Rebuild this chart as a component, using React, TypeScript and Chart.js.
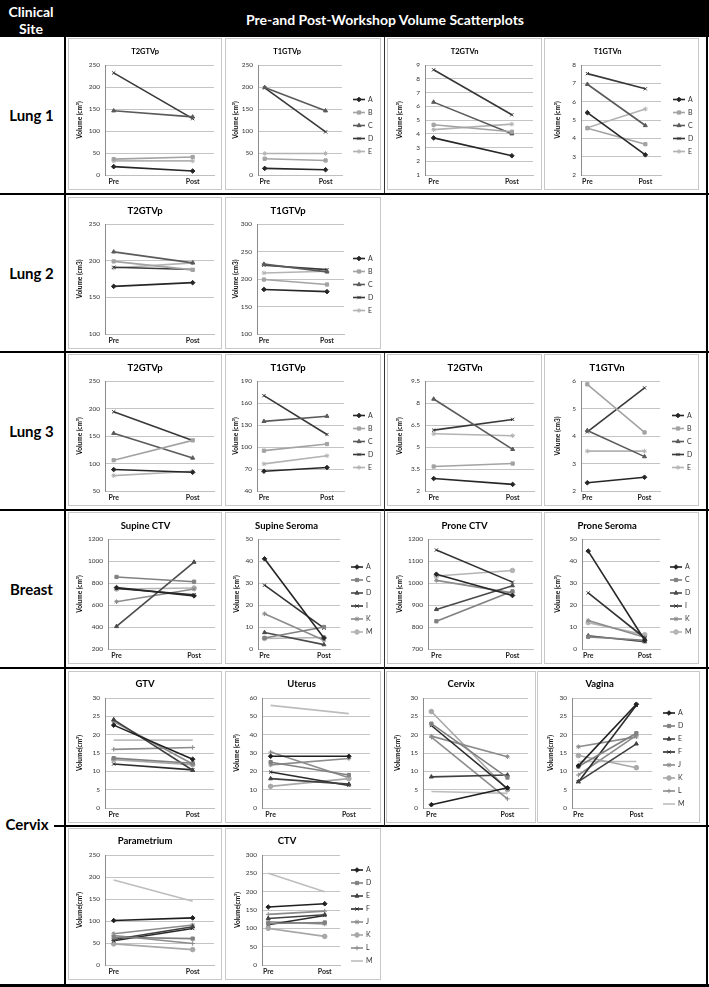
import React, { useEffect, useRef } from "react";
import { Chart, registerables } from "chart.js";
import { drawPoint } from "chart.js/helpers";

Chart.register(...registerables);

const FONT = "Lato, 'Open Sans', sans-serif";

// ---------------- DATA ----------------
const STAGES = ["Pre", "Post"];
const LUNG_PATIENTS = ["A", "B", "C", "D", "E"];
const BREAST_PATIENTS = ["A", "C", "D", "I", "K", "M"];
const CERVIX_PATIENTS = ["A", "D", "E", "F", "J", "K", "L", "M"];

// Lung 1
const lung1T2GTVpPre = [19, 36, 146, 232, 32];
const lung1T2GTVpPost = [9, 41, 132, 128, 32];
const lung1T2GTVpTicks = [0, 50, 100, 150, 200, 250];
const lung1T1GTVpPre = [15, 37, 199, 198, 49];
const lung1T1GTVpPost = [12, 33, 146, 98, 49];
const lung1T1GTVpTicks = [0, 50, 100, 150, 200, 250];
const lung1T2GTVnPre = [3.7, 4.65, 6.3, 8.65, 4.3];
const lung1T2GTVnPost = [2.4, 4.15, 4.0, 5.38, 4.7];
const lung1T2GTVnTicks = [1, 2, 3, 4, 5, 6, 7, 8, 9];
const lung1T1GTVnPre = [5.4, 4.55, 6.95, 7.53, 4.58];
const lung1T1GTVnPost = [3.1, 3.68, 4.7, 6.7, 5.6];
const lung1T1GTVnTicks = [2, 3, 4, 5, 6, 7, 8];

// Lung 2
const lung2T2GTVpPre = [165, 199, 212, 191, 190];
const lung2T2GTVpPost = [170, 187.5, 197, 188, 197];
const lung2T2GTVpTicks = [100, 150, 200, 250];
const lung2T1GTVpPre = [181, 199, 227, 225, 211];
const lung2T1GTVpPost = [177, 190, 213, 217, 214];
const lung2T1GTVpTicks = [100, 150, 200, 250, 300];

// Lung 3
const lung3T2GTVpPre = [89, 106, 155, 194, 78];
const lung3T2GTVpPost = [84, 142, 110, 142, 86];
const lung3T2GTVpTicks = [50, 100, 150, 200, 250];
const lung3T1GTVpPre = [67, 95, 135, 170, 77];
const lung3T1GTVpPost = [72, 104, 142, 117, 88];
const lung3T1GTVpTicks = [40, 70, 100, 130, 160, 190];
const lung3T2GTVnPre = [2.85, 3.67, 8.27, 6.15, 5.9];
const lung3T2GTVnPost = [2.45, 3.87, 4.84, 6.88, 5.77];
const lung3T2GTVnTicks = [2, 3.5, 5, 6.5, 8, 9.5];
const lung3T1GTVnPre = [2.3, 5.88, 4.2, 4.15, 3.45];
const lung3T1GTVnPost = [2.5, 4.13, 3.25, 5.75, 3.45];
const lung3T1GTVnTicks = [2, 3, 4, 5, 6];

// Breast
const supineCTVPre = [758, 855, 405, 750, 630, 745];
const supineCTVPost = [683, 812, 990, 693, 745, 755];
const supineCTVTicks = [200, 400, 600, 800, 1000, 1200];
const supineSeromaPre = [41, 5, 7.5, 29, 16, 4.8];
const supineSeromaPost = [5, 10, 2, 9.5, 4, 5.2];
const supineSeromaTicks = [0, 10, 20, 30, 40, 50];
const proneCTVPre = [1040, 826, 880, 1150, 1012, 1032];
const proneCTVPost = [943, 962, 988, 1004, 955, 1057];
const proneCTVTicks = [700, 800, 900, 1000, 1100, 1200];
const proneSeromaPre = [44.5, 5.5, 6, 25.5, 13, 12];
const proneSeromaPost = [4, 4, 3.3, 5, 5.3, 6.5];
const proneSeromaTicks = [0, 10, 20, 30, 40, 50];

// Cervix
const gtvPre = [22.6, 13.6, 24.1, 12, 23.6, 13.2, 16, 18.5];
const gtvPost = [13.3, 12.2, 10.3, 10.4, 12, 11.8, 16.5, 18.5];
const gtvTicks = [0, 5, 10, 15, 20, 25, 30];
const uterusPre = [28.2, 25, 16, 19.6, 23.5, 11.8, 30.5, 56];
const uterusPost = [28.2, 18, 13, 12.3, 27, 16, 16.5, 51.5];
const uterusTicks = [0, 10, 20, 30, 40, 50, 60];
const cervixPre = [0.9, 23, 8.5, 22.5, 19.6, 26.3, 19.3, 4.5];
const cervixPost = [5.5, 8.3, 9, 5.3, 14, 5, 2.5, 4];
const cervixTicks = [0, 5, 10, 15, 20, 25, 30];
const vaginaPre = [11.5, 11.3, 7.2, 7.1, 16.7, 14.3, 9, 12.7];
const vaginaPost = [28.3, 20.4, 17.5, 28, 19.4, 11, 19.8, 12.7];
const vaginaTicks = [0, 5, 10, 15, 20, 25, 30];
const parametriumPre = [101, 63, 58, 55, 71, 48, 67, 193];
const parametriumPost = [107, 60, 87, 83, 91, 35, 49, 145];
const parametriumTicks = [0, 50, 100, 150, 200, 250];
const ctvPre = [158, 113, 127, 110, 118, 100, 138, 250];
const ctvPost = [167, 116, 137, 135, 112, 78, 147, 200];
const ctvTicks = [0, 50, 100, 150, 200, 250, 300];

// ---------------- STYLES ----------------
type SeriesStyle = { color: string; marker: string | false };
const LUNG_STYLES: SeriesStyle[] = [
  { color: "#262626", marker: "rectRot" },
  { color: "#a3a3a3", marker: "rect" },
  { color: "#5a5a5a", marker: "triangle" },
  { color: "#383838", marker: "crossRot" },
  { color: "#b3b3b3", marker: "star" },
];
const BREAST_STYLES: SeriesStyle[] = [
  { color: "#262626", marker: "rectRot" },
  { color: "#808080", marker: "rect" },
  { color: "#4a4a4a", marker: "triangle" },
  { color: "#333333", marker: "crossRot" },
  { color: "#8c8c8c", marker: "star" },
  { color: "#b3b3b3", marker: "circle" },
];
const CERVIX_STYLES: SeriesStyle[] = [
  { color: "#1f1f1f", marker: "rectRot" },
  { color: "#808080", marker: "rect" },
  { color: "#404040", marker: "triangle" },
  { color: "#2b2b2b", marker: "crossRot" },
  { color: "#8c8c8c", marker: "star" },
  { color: "#a8a8a8", marker: "circle" },
  { color: "#8c8c8c", marker: "cross" },
  { color: "#bdbdbd", marker: false },
];

const VOL = "Volume (cm³)";
const VOL3 = "Volume (cm3)";
const VOLN = "Volume(cm³)";

const MARKER_R = 2.3;

// ---------------- LAYOUT ----------------
const ROW_TOPS = [38, 197, 354, 512, 671, 828];
const PANEL_H = 152;
const COLS = [
  { x: 68, w: 154 },
  { x: 225, w: 156 },
  { x: 387, w: 155 },
  { x: 544, w: 155 },
];
const CERVIX_COLS = [
  { x: 68, w: 154 },
  { x: 225, w: 156 },
  { x: 386, w: 150 },
  { x: 537, w: 163 },
];

type Geo = { left: number; right: number; yTitleX: number; legendX?: number };
const G_STD: Geo = { left: 37, right: 146, yTitleX: 12 };
const G_P2L: Geo = { left: 33, right: 117, yTitleX: 11, legendX: 128 };
const G_P4L: Geo = { left: 37, right: 117, yTitleX: 14, legendX: 129 };

interface PanelDef {
  key: string;
  title: string;
  yTitle: string;
  ids: string[];
  styles: SeriesStyle[];
  pre: number[];
  post: number[];
  ticks: number[];
  box: { x: number; y: number; w: number; h: number };
  geo: Geo;
  titleSize: number;
  titleY: number;
}

function mk(
  row: number,
  col: number,
  title: string,
  yTitle: string,
  ids: string[],
  styles: SeriesStyle[],
  pre: number[],
  post: number[],
  ticks: number[],
  geo: Geo,
  titleSize = 9.5,
  titleY = 14
): PanelDef {
  const cols = row === 4 ? CERVIX_COLS : COLS;
  return {
    key: `${row}-${col}`,
    title,
    yTitle,
    ids,
    styles,
    pre,
    post,
    ticks,
    box: { x: cols[col].x, y: ROW_TOPS[row], w: cols[col].w, h: PANEL_H },
    geo,
    titleSize,
    titleY,
  };
}

const L = LUNG_PATIENTS;
const LS = LUNG_STYLES;
const PANELS: PanelDef[] = [
  mk(0, 0, "T2GTVp", VOL, L, LS, lung1T2GTVpPre, lung1T2GTVpPost, lung1T2GTVpTicks, G_STD, 7.5),
  mk(0, 1, "T1GTVp", VOL, L, LS, lung1T1GTVpPre, lung1T1GTVpPost, lung1T1GTVpTicks, G_P2L, 7.5),
  mk(0, 2, "T2GTVn", VOL, L, LS, lung1T2GTVnPre, lung1T2GTVnPost, lung1T2GTVnTicks, { left: 38, right: 146, yTitleX: 13 }, 7.5),
  mk(0, 3, "T1GTVn", VOL, L, LS, lung1T1GTVnPre, lung1T1GTVnPost, lung1T1GTVnTicks, G_P4L, 7.5),
  mk(1, 0, "T2GTVp", VOL3, L, LS, lung2T2GTVpPre, lung2T2GTVpPost, lung2T2GTVpTicks, G_STD),
  mk(1, 1, "T1GTVp", VOL3, L, LS, lung2T1GTVpPre, lung2T1GTVpPost, lung2T1GTVpTicks, { left: 32, right: 119, yTitleX: 11, legendX: 128 }),
  mk(2, 0, "T2GTVp", VOL, L, LS, lung3T2GTVpPre, lung3T2GTVpPost, lung3T2GTVpTicks, G_STD),
  mk(2, 1, "T1GTVp", VOL, L, LS, lung3T1GTVpPre, lung3T1GTVpPost, lung3T1GTVpTicks, { left: 32, right: 119, yTitleX: 11, legendX: 128 }),
  mk(2, 2, "T2GTVn", VOL, L, LS, lung3T2GTVnPre, lung3T2GTVnPost, lung3T2GTVnTicks, { left: 38, right: 147, yTitleX: 13 }),
  mk(2, 3, "T1GTVn", VOL3, L, LS, lung3T1GTVnPre, lung3T1GTVnPost, lung3T1GTVnTicks, { left: 37, right: 116, yTitleX: 14, legendX: 128 }),
  mk(3, 0, "Supine CTV", VOL, BREAST_PATIENTS, BREAST_STYLES, supineCTVPre, supineCTVPost, supineCTVTicks, { left: 40, right: 147, yTitleX: 12 }),
  mk(3, 1, "Supine Seroma", VOL, BREAST_PATIENTS, BREAST_STYLES, supineSeromaPre, supineSeromaPost, supineSeromaTicks, { left: 33, right: 115, yTitleX: 12, legendX: 126 }),
  mk(3, 2, "Prone CTV", VOL, BREAST_PATIENTS, BREAST_STYLES, proneCTVPre, proneCTVPost, proneCTVTicks, { left: 41, right: 146, yTitleX: 13 }),
  mk(3, 3, "Prone Seroma", VOL, BREAST_PATIENTS, BREAST_STYLES, proneSeromaPre, proneSeromaPost, proneSeromaTicks, { left: 38, right: 116, yTitleX: 14, legendX: 126 }),
  mk(4, 0, "GTV", VOLN, CERVIX_PATIENTS, CERVIX_STYLES, gtvPre, gtvPost, gtvTicks, G_STD, 9.5, 12.5),
  mk(4, 1, "Uterus", VOL, CERVIX_PATIENTS, CERVIX_STYLES, uterusPre, uterusPost, uterusTicks, { left: 37, right: 145, yTitleX: 12 }, 9.5, 12.5),
  mk(4, 2, "Cervix", VOLN, CERVIX_PATIENTS, CERVIX_STYLES, cervixPre, cervixPost, cervixTicks, { left: 37, right: 142, yTitleX: 12 }, 9.5, 12.5),
  mk(4, 3, "Vagina", VOLN, CERVIX_PATIENTS, CERVIX_STYLES, vaginaPre, vaginaPost, vaginaTicks, { left: 35, right: 115, yTitleX: 14, legendX: 126 }, 9.5, 12.5),
  mk(5, 0, "Parametrium", VOLN, CERVIX_PATIENTS, CERVIX_STYLES, parametriumPre, parametriumPost, parametriumTicks, G_STD, 9.5, 12.5),
  mk(5, 1, "CTV", VOLN, CERVIX_PATIENTS, CERVIX_STYLES, ctvPre, ctvPost, ctvTicks, { left: 37, right: 115, yTitleX: 13, legendX: 126 }, 9.5, 12.5),
];

// ---------------- CHART ----------------
function Panel({ p }: { p: PanelDef }) {
  const ref = useRef<HTMLCanvasElement>(null);
  useEffect(() => {
    const canvas = ref.current;
    if (!canvas) return;
    const innerW = p.box.w - 2;
    const innerH = p.box.h - 2;
    const plotTop = 26;
    const plotBottom = 136;
    const lh = p.titleSize * 1.2;
    const tPadTop = p.titleY - 1 - lh / 2;
    const tPadBottom = plotTop - tPadTop - lh;
    const yTitleSize = 6.5;
    const yTitleLH = yTitleSize * 1.2;
    const padLeft = p.geo.yTitleX - 1 - yTitleLH / 2;
    const plotLeft = p.geo.left - 1;
    const plotRight = p.geo.right - 1;

    const legendPlugin = {
      id: "sideLegend",
      afterDraw(chart: any) {
        if (p.geo.legendX === undefined) return;
        const ctx = chart.ctx as CanvasRenderingContext2D;
        const ds = chart.data.datasets as any[];
        const n = ds.length;
        const cy = 86.5;
        const pitch = 13;
        const x0 = p.geo.legendX - 1;
        ds.forEach((d, i) => {
          const y = cy + (i - (n - 1) / 2) * pitch;
          ctx.save();
          ctx.strokeStyle = d.borderColor;
          ctx.lineWidth = 1.6;
          ctx.beginPath();
          ctx.moveTo(x0, y);
          ctx.lineTo(x0 + 12, y);
          ctx.stroke();
          if (d.pointRadius > 0) {
            ctx.fillStyle = d.pointBackgroundColor;
            ctx.strokeStyle = d.pointBorderColor;
            ctx.lineWidth = 1;
            drawPoint(ctx, { pointStyle: d.pointStyle, rotation: 0, radius: MARKER_R, borderWidth: 1 } as any, x0 + 6, y);
          }
          ctx.fillStyle = "#333";
          ctx.font = `7px ${FONT}`;
          ctx.textBaseline = "middle";
          ctx.textAlign = "left";
          ctx.fillText(d.label, x0 + 15, y);
          ctx.restore();
        });
      },
    };

    const chart = new Chart(canvas, {
      type: "line",
      data: {
        datasets: p.ids.map((id, i) => {
          const s = p.styles[i];
          return {
            label: id,
            data: [
              { x: 1, y: p.pre[i] },
              { x: 2, y: p.post[i] },
            ],
            borderColor: s.color,
            backgroundColor: s.color,
            pointBackgroundColor: s.color,
            pointBorderColor: s.color,
            pointStyle: (s.marker || "circle") as any,
            pointRadius: s.marker ? MARKER_R : 0,
            pointBorderWidth: 1,
            borderWidth: 1.6,
            fill: false,
            tension: 0,
          };
        }),
      },
      options: {
        animation: false,
        responsive: false,
        events: [],
        layout: { padding: { left: padLeft, right: innerW - plotRight, top: 0, bottom: 0 } },
        plugins: {
          legend: { display: false },
          tooltip: { enabled: false },
          title: {
            display: true,
            text: p.title,
            color: "#000",
            font: { family: FONT, size: p.titleSize, weight: "bold" },
            padding: { top: tPadTop, bottom: tPadBottom },
          },
        },
        scales: {
          x: {
            type: "linear",
            min: 0.89,
            max: 2.27,
            afterBuildTicks: (s: any) => {
              s.ticks = [{ value: 1 }, { value: 2 }];
            },
            afterFit: (s: any) => {
              s.height = innerH - plotBottom;
            },
            ticks: {
              callback: (v: any) => STAGES[Math.round(Number(v)) - 1],
              color: "#222",
              font: { family: FONT, size: 7, weight: "bold" },
              padding: 3,
              maxRotation: 0,
              autoSkip: false,
            },
            grid: { display: false, drawTicks: false, tickLength: 0 },
            border: { display: true, color: "#bfbfbf", width: 1 },
          },
          y: {
            type: "linear",
            min: p.ticks[0],
            max: p.ticks[p.ticks.length - 1],
            afterBuildTicks: (s: any) => {
              s.ticks = p.ticks.map((v) => ({ value: v }));
            },
            afterFit: (s: any) => {
              s.width = plotLeft - padLeft;
            },
            ticks: {
              callback: (v: any) => String(v),
              color: "#333",
              font: { family: FONT, size: 6.5 },
              padding: 5,
            },
            grid: { color: "#c4c4c4", drawTicks: false, tickLength: 0, lineWidth: 1 },
            border: { display: true, color: "#8c8c8c", width: 1 },
            title: {
              display: true,
              text: p.yTitle,
              color: "#111",
              font: { family: FONT, size: yTitleSize, weight: "bold" },
              padding: 0,
            },
          },
        },
      } as any,
      plugins: [legendPlugin],
    });
    return () => chart.destroy();
  }, [p]);

  return (
    <div
      style={{
        position: "absolute",
        left: p.box.x,
        top: p.box.y,
        width: p.box.w,
        height: p.box.h,
        boxSizing: "border-box",
        border: "1px solid #c8c8c8",
        background: "#fff",
      }}
    >
      <canvas ref={ref} width={p.box.w - 2} height={p.box.h - 2} style={{ display: "block" }} />
    </div>
  );
}

const ROW_LABELS = [
  { text: "Lung 1", y: 115 },
  { text: "Lung 2", y: 273 },
  { text: "Lung 3", y: 431 },
  { text: "Breast", y: 589 },
  { text: "Cervix", y: 824 },
];

function Rule({ x, y, w, h, c = "#000" }: { x: number; y: number; w: number; h: number; c?: string }) {
  return <div style={{ position: "absolute", left: x, top: y, width: w, height: h, background: c }} />;
}

export default function App() {
  return (
    <div
      style={{
        position: "absolute",
        left: 0,
        top: 0,
        width: 709,
        height: 987,
        background: "#fff",
        overflow: "hidden",
        fontFamily: FONT,
      }}
    >
      {/* header */}
      <div style={{ position: "absolute", left: 0, top: 0, width: 709, height: 37, background: "#000" }} />
      <div
        style={{
          position: "absolute",
          left: 0,
          top: 3,
          width: 62,
          textAlign: "center",
          color: "#fff",
          fontWeight: 700,
          fontSize: 14,
          lineHeight: "17px",
        }}
      >
        Clinical
        <br />
        Site
      </div>
      <div
        style={{
          position: "absolute",
          left: 65,
          top: 11,
          width: 640,
          textAlign: "center",
          color: "#fff",
          fontWeight: 700,
          fontSize: 14,
          lineHeight: "18px",
        }}
      >
        Pre-and Post-Workshop Volume Scatterplots
      </div>

      {/* table rules */}
      <Rule x={64} y={37} w={2} h={950} />
      <Rule x={706} y={37} w={2} h={950} />
      <Rule x={0} y={193} w={709} h={2} />
      <Rule x={0} y={351} w={709} h={2} />
      <Rule x={0} y={509} w={709} h={2} />
      <Rule x={0} y={667} w={709} h={2} />
      <Rule x={54} y={825} w={655} h={2} />
      <Rule x={0} y={984} w={709} h={3} />
      <Rule x={384} y={37} w={1} h={156} c="#333" />
      <Rule x={384} y={353} w={1} h={473} c="#333" />

      {ROW_LABELS.map((r) => (
        <div
          key={r.text}
          style={{
            position: "absolute",
            left: 0,
            top: r.y - 10,
            width: r.text === "Cervix" ? 54 : 63,
            textAlign: "center",
            color: "#000",
            fontWeight: 700,
            fontSize: 15,
            lineHeight: "20px",
          }}
        >
          {r.text}
        </div>
      ))}

      {PANELS.map((p) => (
        <Panel key={p.key} p={p} />
      ))}
    </div>
  );
}
